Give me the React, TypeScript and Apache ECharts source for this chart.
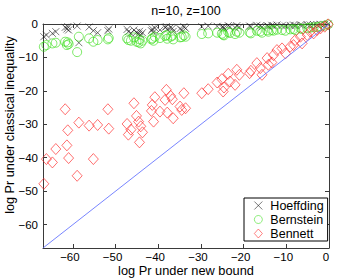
import React, { useEffect, useRef } from "react";
import * as echarts from "echarts";

// log Pr under the new bound (shared x for every trial)
const newBound = [
  -66.8, -66.2, -64.8, -64.0, -61.8, -61.4, -61.2, -61.0, -59.0, -58.6, -56.2, -55.2, -54.2, -51.8, -51.6,
  -47.3, -47.0, -46.4, -45.7, -45.1, -44.6, -44.4, -44.1, -43.7, -41.6, -41.4, -41.1, -40.8, -39.6, -38.4,
  -38.1, -37.9, -37.1, -36.7, -36.5, -34.9, -34.5, -34.0, -33.6,
  -29.8, -28.3, -26.2, -25.1, -24.8, -24.6, -23.6, -23.2, -22.0, -21.6, -21.0, -18.6, -18.3, -16.9, -16.1,
  -15.7, -14.5, -14.2, -13.4, -13.0, -12.2, -11.0, -10.2, -9.1, -8.3, -7.9, -6.7, -6.3, -5.1, -4.4, -3.6,
  -2.8, -2.0, -1.0, -0.2,
];
const hoeffding = [
  -3.8, -3.3, -2.8, -2.3, -1.0, -1.5, -0.8, -1.8, -0.6, -5.6, -0.9, -2.0, -2.6, -2.0, -1.5,
  -1.6, -2.3, -2.8, -1.8, -2.5, -3.0, -2.2, -3.3, -2.6, -2.0, -1.5, -2.4, -1.2, -1.8, -1.0,
  -0.8, -1.6, -1.0, -1.3, -2.2, -1.4, -1.8, -0.8, -1.3,
  -0.8, -0.6, -0.7, -1.0, -0.9, -1.2, -0.5, -0.8, -1.1, -0.5, -0.9, -0.6, -0.8, -0.4, -0.6,
  -0.9, -0.5, -0.7, -0.4, -0.6, -0.3, -0.5, -0.6, -0.4, -0.3, -0.5, -0.3, -0.4, -0.2, -0.3, -0.2,
  -0.2, -0.1, -0.1, 0,
];
const bernstein = [
  -6.8, -6.3, -5.8, -5.6, -5.3, -6.3, -5.5, -6.0, -8.4, -3.8, -4.3, -5.3, -4.8, -4.6, -4.2,
  -4.3, -4.8, -5.0, -4.0, -5.3, -5.5, -4.6, -5.8, -5.0, -4.6, -4.3, -5.0, -3.8, -4.2, -3.6,
  -3.3, -4.4, -3.8, -3.5, -4.6, -4.0, -3.9, -3.4, -3.8,
  -3.0, -2.8, -2.6, -2.9, -3.2, -3.4, -2.4, -2.7, -3.0, -2.3, -2.6, -2.5, -2.8, -2.0, -2.2,
  -2.6, -1.9, -2.3, -1.8, -2.0, -1.7, -1.8, -2.0, -1.6, -1.5, -1.8, -1.3, -1.5, -1.2, -1.1, -1.0,
  -0.9, -0.7, -0.5, -0.1,
];
const bennett = [
  -47.8, -40.4, -41.4, -37.4, -25.5, -36.3, -31.8, -40.1, -45.4, -29.5, -30.4, -40.4, -30.2, -25.5, -31.3,
  -29.9, -33.1, -31.6, -23.7, -27.5, -29.2, -35.4, -30.6, -32.4, -26.0, -24.2, -29.2, -21.9, -26.2, -22.7,
  -19.7, -26.5, -21.5, -22.5, -28.2, -24.7, -25.7, -20.7, -25.2,
  -20.7, -19.5, -17.5, -16.5, -20.2, -19.0, -14.9, -17.2, -18.2, -13.7, -15.2, -14.7, -14.0, -11.7, -13.2,
  -15.2, -10.2, -12.2, -11.5, -9.3, -7.8, -7.3, -8.8, -6.8, -6.3, -4.8, -3.8, -5.8, -3.3, -2.3, -2.8,
  -1.8, -1.3, -0.8, -0.1,
];
const tickValues = [-60, -50, -40, -30, -20, -10, 0];
const axisMin = -67;
const axisMax = 0;
const diagonal = [
  [axisMin, axisMin],
  [axisMax, axisMax],
];

const FONT = '"Liberation Sans", Arial, Helvetica, sans-serif';
const AXIS_COLOR = "#3a3a3a";

const zip = (ys: number[]) => newBound.map((x, i) => [x, ys[i]]);
const fmt = (v: number) => String(v).replace("-", "\u2212");

function makeAxis(position: string, showLabel: boolean, margin: number, padding: number[]) {
  return {
    type: "value",
    position,
    min: axisMin,
    max: axisMax,
    axisLine: { show: true, onZero: false, lineStyle: { color: AXIS_COLOR, width: 1 } },
    axisTick: { show: true, inside: true, length: 4, customValues: tickValues, lineStyle: { color: AXIS_COLOR, width: 1 } },
    axisLabel: {
      show: showLabel,
      customValues: tickValues,
      formatter: fmt,
      color: "#000",
      fontSize: 11.5,
      fontFamily: FONT,
      margin,
      padding,
    },
    splitLine: { show: false },
  };
}

export default function App() {
  const ref = useRef<HTMLDivElement>(null);
  useEffect(() => {
    if (!ref.current) return;
    const chart = echarts.init(ref.current, null, { renderer: "svg" });
    chart.setOption({
      animation: false,
      backgroundColor: "#fff",
      grid: { left: 43, right: 12, top: 24, bottom: 32, containLabel: false },
      xAxis: [makeAxis("bottom", true, 3, [0, 6, 0, 0]), makeAxis("top", false, 3, [0, 0, 0, 0])],
      yAxis: [makeAxis("left", true, 5, [0, 0, 0, 0]), makeAxis("right", false, 5, [0, 0, 0, 0])],
      legend: {
        data: ["Hoeffding", "Bernstein", "Bennett"],
        orient: "vertical",
        left: 244,
        top: 198,
        padding: [1, 4, 1, 10],
        itemGap: 1,
        itemWidth: 8,
        itemHeight: 9,
        borderColor: "#000",
        borderWidth: 1,
        borderRadius: 0,
        backgroundColor: "#fff",
        itemStyle: { borderWidth: 0.7 },
        textStyle: { fontSize: 12.5, color: "#000", fontFamily: FONT, padding: [0, 0, 0, 3] },
      },
      graphic: [
        {
          type: "text",
          x: 186,
          y: 11,
          style: { text: "n=10, z=100", fontSize: 12.5, fontFamily: FONT, fill: "#000", textAlign: "center", textVerticalAlign: "middle" },
        },
        {
          type: "text",
          x: 186,
          y: 270,
          style: { text: "log Pr under new bound", fontSize: 12.8, fontFamily: FONT, fill: "#000", textAlign: "center", textVerticalAlign: "middle" },
        },
        {
          type: "text",
          x: 10,
          y: 125,
          rotation: Math.PI / 2,
          style: { text: "log Pr under classical inequality", fontSize: 12.7, fontFamily: FONT, fill: "#000", textAlign: "center", textVerticalAlign: "middle" },
        },
      ],
      series: [
        {
          name: "Hoeffding",
          type: "scatter",
          data: zip(hoeffding),
          symbol: "path://M0 0L10 10M10 0L0 10",
          symbolSize: 7,
          itemStyle: { color: "transparent", borderColor: "#111", borderWidth: 0.7 },
        },
        {
          name: "Bernstein",
          type: "scatter",
          data: zip(bernstein),
          symbol: "circle",
          symbolSize: 9,
          itemStyle: { color: "transparent", borderColor: "#33dd11", borderWidth: 0.8 },
        },
        {
          name: "Bennett",
          type: "scatter",
          data: zip(bennett),
          symbol: "diamond",
          symbolSize: [10, 11],
          itemStyle: { color: "transparent", borderColor: "#ff2020", borderWidth: 0.8 },
        },
        {
          name: "diag",
          type: "line",
          data: diagonal,
          symbol: "none",
          silent: true,
          lineStyle: { color: "#5566ff", width: 0.8 },
        },
      ],
    });
    return () => chart.dispose();
  }, []);
  return <div ref={ref} style={{ position: "fixed", left: 0, top: 0, width: 341, height: 280 }} />;
}
